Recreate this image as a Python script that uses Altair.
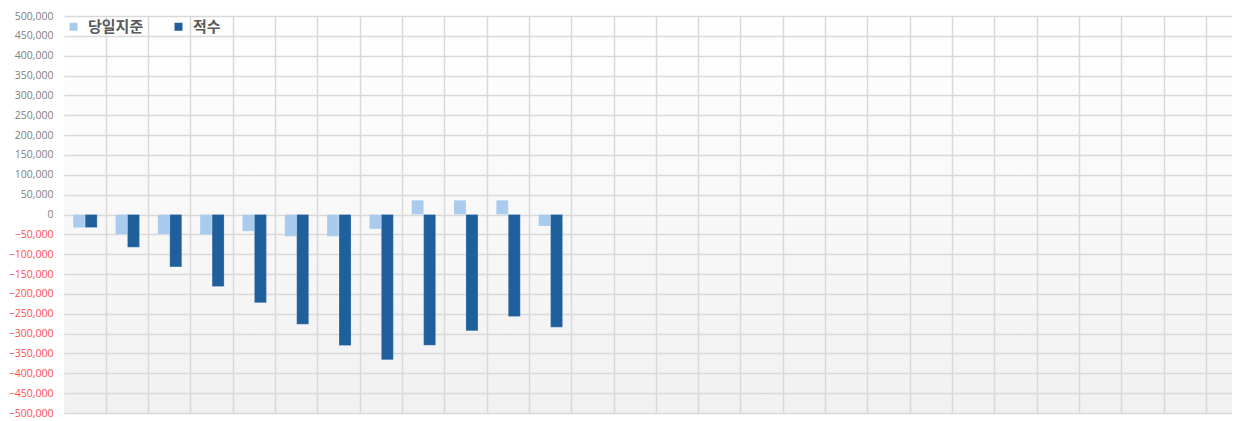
import altair as alt
import pandas as pd

days = [str(i) for i in range(1, 28)]
series_names = ["당일지준", "적수"]
daily = [-33000, -50000, -50000, -51000, -42000, -55000, -55000, -36500, 36000, 36000, 36000, -29000]
cumulative = [-33000, -82500, -132000, -181500, -222000, -276500, -330000, -366000, -329500, -293000, -257000, -284000]
y_ticks = list(range(-500000, 500001, 50000))
colors = ["#a9cbee", "#1f5f9b"]

rows = []
for i, (d, c) in enumerate(zip(daily, cumulative)):
    rows.append({"day": days[i], "series": series_names[0], "value": d})
    rows.append({"day": days[i], "series": series_names[1], "value": c})
df = pd.DataFrame(rows)

grad = ("{gradient: 'linear', x1: 0, y1: 0, x2: 0, y2: 1, "
        "stops: [{offset: 0, color: '#ffffff'}, {offset: 1, color: '#f1f1f1'}]}")

chart = alt.Chart(df).mark_bar(stroke="#ffffff", strokeWidth=0.6, strokeOpacity=0.35).encode(
    x=alt.X("day:N",
            scale=alt.Scale(domain=days, paddingInner=0, paddingOuter=0.3025, align=0),
            axis=alt.Axis(labels=False, ticks=False, domain=False, title=None, grid=True,
                          bandPosition=1, gridColor="#d9d9d9", gridWidth=1.5)),
    xOffset=alt.XOffset("series:N",
                        scale=alt.Scale(domain=series_names, paddingInner=0, paddingOuter=0.7625)),
    y=alt.Y("value:Q",
            scale=alt.Scale(domain=[-500000, 500000], nice=False, zero=False),
            axis=alt.Axis(values=y_ticks, format=",.0f", title=None, ticks=False, domain=False,
                          grid=True, gridColor="#d9d9d9", gridWidth=1.5,
                          labelFont="Open Sans", labelFontSize=10.5, labelPadding=11,
                          labelOverlap=False,
                          labelColor=alt.ExprRef(expr="datum.value < 0 ? '#ff4d4d' : '#808080'"))),
    color=alt.Color("series:N",
                    scale=alt.Scale(domain=series_names, range=colors),
                    legend=alt.Legend(title=None, orient="none", legendX=2, legendY=3,
                                      direction="horizontal", symbolType="square",
                                      symbolSize=64, symbolStrokeWidth=0,
                                      labelFont="Noto Sans CJK KR", labelFontSize=15,
                                      labelFontWeight="bold", labelColor="#595959",
                                      labelOffset=7, columnPadding=27)),
).properties(
    width=1168,
    height=397,
    autosize=alt.AutoSizeParams(type="none"),
    padding={"left": 56, "top": 8, "right": 0, "bottom": 8},
).configure_view(
    strokeWidth=0,
    fill={"expr": grad},
)

chart.save("out.html", embed_options={"renderer": "svg", "actions": False})
